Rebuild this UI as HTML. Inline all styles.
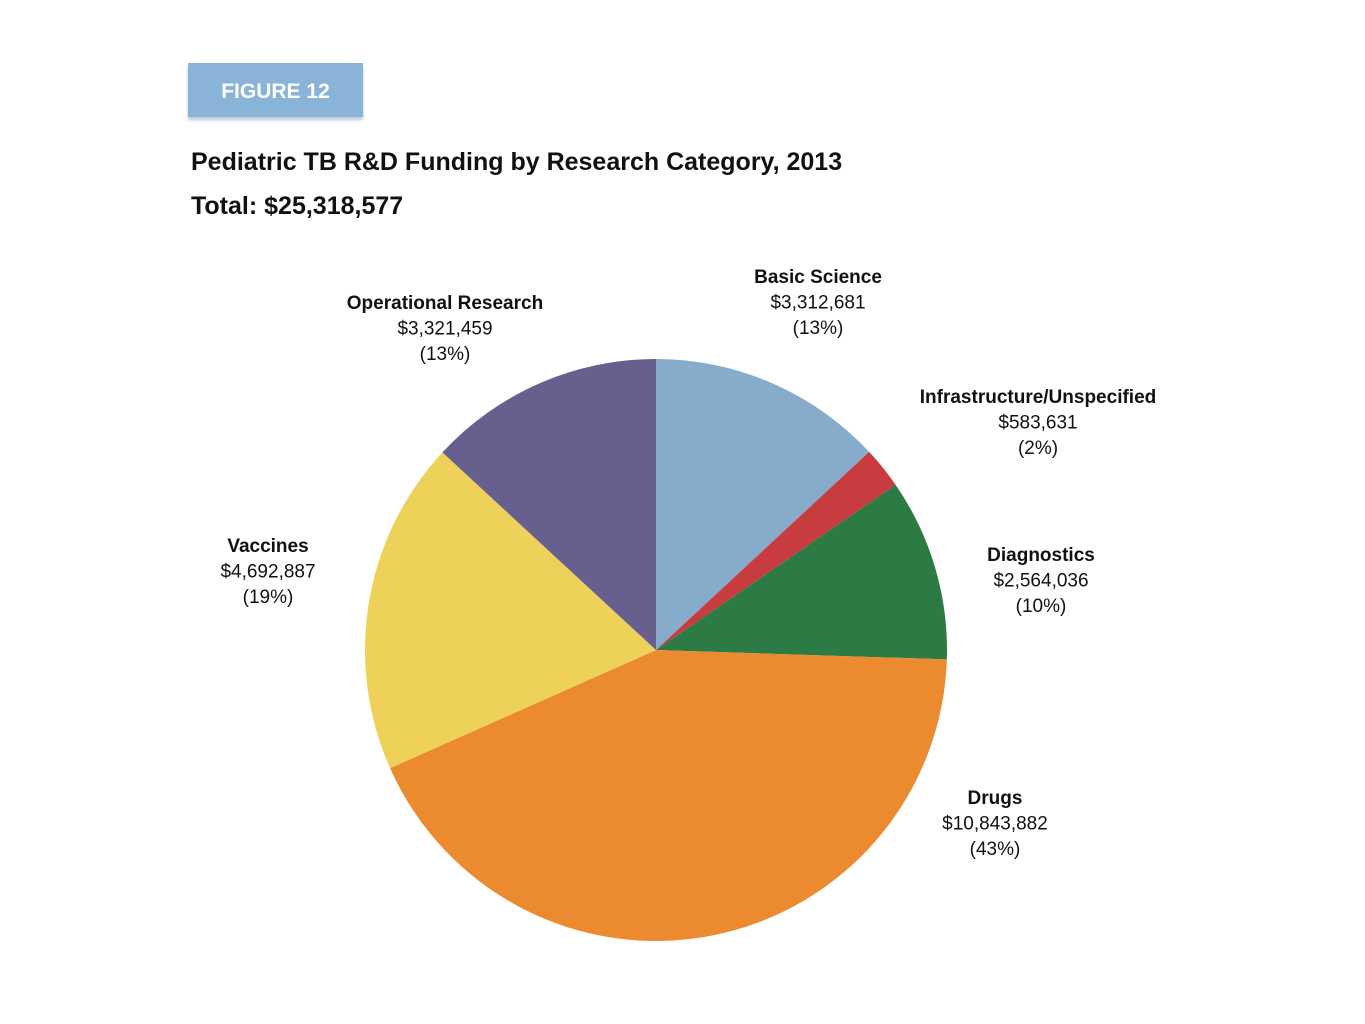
<!DOCTYPE html>
<html><head><meta charset="utf-8"><style>
body{margin:0;width:1365px;height:1024px;background:#fff;position:relative;font-family:"Liberation Sans",Arial,sans-serif;overflow:hidden}
.fig{position:absolute;left:188px;top:63px;width:175px;height:54px;background:#8AB3D8;color:#fff;font-weight:bold;font-size:21px;line-height:58px;text-align:center;box-shadow:0 3px 3px rgba(120,150,180,0.5)}
.t{position:absolute;left:191px;font-weight:bold;font-size:25px;color:#111}
svg{position:absolute;left:0;top:0}
</style></head><body>
<div class="fig">FIGURE 12</div>
<div class="t" style="top:148px">Pediatric TB R&amp;D Funding by Research Category, 2013</div>
<div class="t" style="top:192px">Total: $25,318,577</div>
<svg id="chart" width="1365" height="1024"></svg>
<script>
const categories=["Basic Science","Infrastructure/Unspecified","Diagnostics","Drugs","Vaccines","Operational Research"];
const values=[3312681,583631,2564036,10843882,4692887,3321459];
const amountLabels=["$3,312,681","$583,631","$2,564,036","$10,843,882","$4,692,887","$3,321,459"];
const percentLabels=["(13%)","(2%)","(10%)","(43%)","(19%)","(13%)"];
const colors=["#87ABCB","#C83B3E","#2C7B44","#EB8A2E","#EDD158","#67608F"];
const labelPos=[[818,283],[1038,403],[1041,561],[995,804],[268,552],[445,309]];
const cx=656,cy=650,r=291;
const svg=document.getElementById('chart');
const NS='http://www.w3.org/2000/svg';
const total=values.reduce((a,b)=>a+b,0);
let a0=0;
values.forEach((v,i)=>{
  const a1=a0+v/total*2*Math.PI;
  const p=(a)=>[cx+r*Math.sin(a),cy-r*Math.cos(a)];
  const [x0,y0]=p(a0),[x1,y1]=p(a1);
  const path=document.createElementNS(NS,'path');
  path.setAttribute('d',`M${cx},${cy}L${x0},${y0}A${r},${r} 0 ${a1-a0>Math.PI?1:0} 1 ${x1},${y1}Z`);
  path.setAttribute('fill',colors[i]);
  
  
  svg.appendChild(path);
  const [lx,ly]=labelPos[i];
  const lines=[categories[i],amountLabels[i],percentLabels[i]];
  lines.forEach((s,k)=>{
    const t=document.createElementNS(NS,'text');
    t.setAttribute('x',lx);t.setAttribute('y',ly+k*25.5);
    t.setAttribute('text-anchor','middle');
    t.setAttribute('font-size','19');
    t.setAttribute('fill','#111');
    if(k===0)t.setAttribute('font-weight','bold');
    t.textContent=s;
    
    
    svg.appendChild(t);
  });
  a0=a1;
});
</script>
</body></html>
